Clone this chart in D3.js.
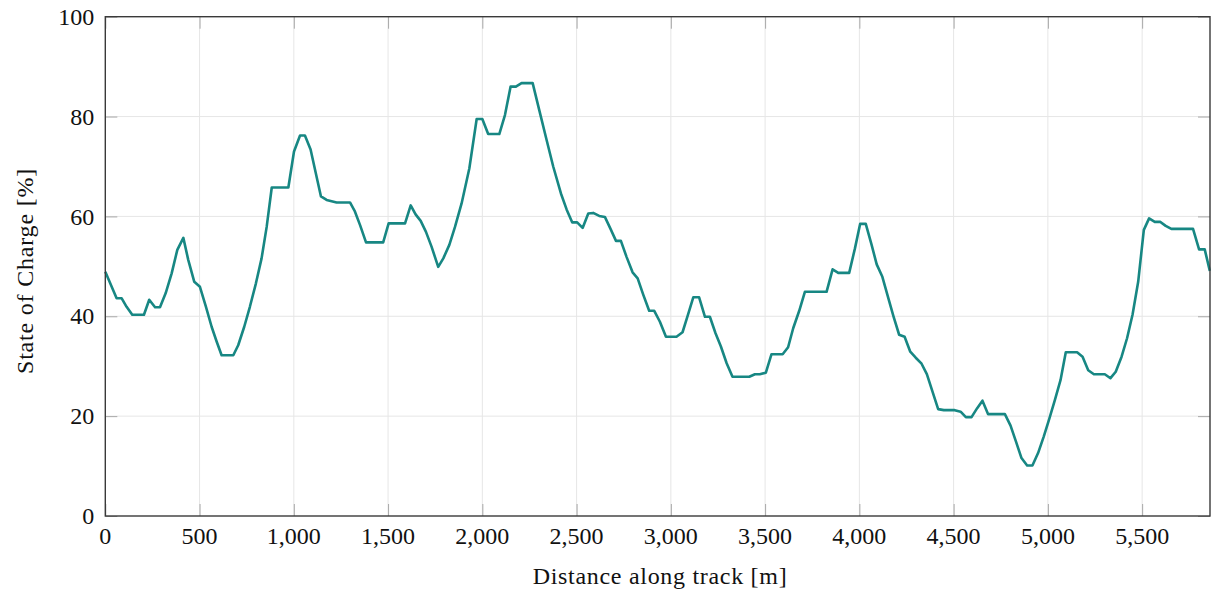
<!DOCTYPE html>
<html><head><meta charset="utf-8">
<script src="https://cdn.jsdelivr.net/npm/d3@7"></script>
<style>body{margin:0;background:#fff}svg{display:block}</style>
</head><body>
<script>
const distance = [0,34,60,87,113,143,205,233,264,290,320,352,382,414,440,472,502,534,564,591,617,679,705,737,767,799,829,856,883,971,1001,1033,1059,1089,1117,1144,1174,1227,1298,1324,1351,1383,1474,1503,1590,1620,1646,1673,1701,1731,1766,1793,1825,1855,1890,1931,1970,2000,2031,2090,2120,2150,2178,2208,2267,2302,2341,2376,2417,2447,2477,2503,2532,2562,2588,2620,2650,2680,2709,2735,2765,2797,2824,2853,2885,2912,2942,2974,3030,3062,3089,3119,3150,3181,3207,3237,3265,3296,3327,3416,3446,3472,3504,3534,3593,3622,3649,3681,3711,3826,3858,3888,3946,3976,4004,4034,4065,4092,4122,4151,4181,4211,4240,4270,4299,4330,4358,4388,4418,4448,4506,4537,4565,4595,4625,4653,4683,4772,4802,4830,4860,4890,4918,4948,4978,5007,5037,5067,5095,5155,5184,5214,5244,5302,5332,5360,5391,5420,5449,5479,5509,5537,5567,5597,5625,5655,5770,5802,5832,5859];
const soc = [48.9,45.9,43.6,43.6,41.9,40.3,40.3,43.3,41.8,41.8,44.6,48.6,53.3,55.7,51.3,46.9,45.9,41.9,37.9,34.9,32.2,32.2,34.2,37.9,41.9,46.6,51.6,57.9,65.8,65.8,73,76.2,76.2,73.4,68.6,64,63.3,62.8,62.8,61,58.3,54.8,54.8,58.6,58.6,62.2,60.4,59.1,56.9,53.9,49.9,51.6,54.3,57.9,62.6,69.6,79.5,79.5,76.5,76.5,80.3,86,86,86.7,86.7,81.3,75.3,70,64.6,61.4,58.8,58.8,57.7,60.6,60.7,60.1,59.9,57.5,55.1,55.1,51.9,48.8,47.6,44.4,41.1,41.1,38.9,35.9,35.9,36.8,40.1,43.8,43.8,39.9,39.9,36.6,34,30.6,27.9,27.9,28.4,28.4,28.7,32.4,32.4,33.8,37.6,41.1,44.9,44.9,49.4,48.7,48.7,53.5,58.5,58.5,54.3,50.4,47.9,44,40,36.3,35.9,32.9,31.7,30.5,28.4,24.9,21.4,21.2,21.2,20.9,19.8,19.8,21.6,23.1,20.4,20.4,18.1,15,11.6,10.1,10.1,12.6,15.9,19.4,23.2,27.2,32.8,32.8,31.9,29.2,28.4,28.4,27.6,28.9,31.9,35.6,40.3,46.9,57.3,59.6,58.9,58.9,58.1,57.5,57.5,53.4,53.4,49.1];
const xTicks = [0,500,1000,1500,2000,2500,3000,3500,4000,4500,5000,5500];
const yTicks = [0,20,40,60,80,100];
const xTitle = "Distance along track [m]";
const yTitle = "State of Charge [%]";

const W = 1211, H = 591;
const L = 105.3, R = 1210, T = 16.7, B = 516;
const svg = d3.select("body").append("svg").attr("width", W).attr("height", H);
const x = d3.scaleLinear().domain([0, 5860]).range([L, R]);
const y = d3.scaleLinear().domain([0, 100]).range([B, T]);
const font = "'Liberation Serif', serif";
const fmt = d3.format(",");

// grid
svg.append("g").selectAll("line").data(xTicks.slice(1)).join("line")
  .attr("x1", d => x(d)).attr("x2", d => x(d)).attr("y1", T).attr("y2", B)
  .attr("stroke", "#e6e6e6").attr("stroke-width", 1);
svg.append("g").selectAll("line").data(yTicks.slice(1, -1)).join("line")
  .attr("y1", d => y(d)).attr("y2", d => y(d)).attr("x1", L).attr("x2", R)
  .attr("stroke", "#e6e6e6").attr("stroke-width", 1);

// axes (inward ticks, no labels here)
const tk = 12;
const axB = svg.append("g").attr("transform", `translate(0,${B})`)
  .call(d3.axisTop(x).tickValues(xTicks).tickSize(tk).tickFormat(""));
const axT = svg.append("g").attr("transform", `translate(0,${T})`)
  .call(d3.axisBottom(x).tickValues(xTicks).tickSize(tk).tickFormat(""));
const axL = svg.append("g").attr("transform", `translate(${L},0)`)
  .call(d3.axisRight(y).tickValues(yTicks).tickSize(tk).tickFormat(""));
const axR = svg.append("g").attr("transform", `translate(${R},0)`)
  .call(d3.axisLeft(y).tickValues(yTicks).tickSize(tk).tickFormat(""));
[axB, axT, axL, axR].forEach(a => {
  a.select(".domain").remove();
  a.selectAll("line").attr("stroke", "#a8a8a8").attr("stroke-width", 1);
});

// tick labels
svg.append("g").selectAll("text").data(xTicks).join("text")
  .attr("x", d => x(d)).attr("y", 544)
  .attr("text-anchor", "middle").attr("font-family", font).attr("font-size", 24)
  .attr("fill", "#111").text(d => fmt(d));
svg.append("g").selectAll("text").data(yTicks).join("text")
  .attr("x", 94.3).attr("y", d => y(d) + 8.2)
  .attr("text-anchor", "end").attr("font-family", font).attr("font-size", 24)
  .attr("fill", "#111").text(d => d);

// line
svg.append("path").datum(distance.map((d, i) => [d, soc[i]]))
  .attr("fill", "none").attr("stroke", "#178783").attr("stroke-width", 2.6)
  .attr("stroke-linejoin", "round")
  .attr("d", d3.line().x(d => x(d[0])).y(d => y(d[1])));

// frame
svg.append("rect").attr("x", L).attr("y", T).attr("width", R - L).attr("height", B - T)
  .attr("fill", "none").attr("stroke", "#3a3a3a").attr("stroke-width", 1.4);

// titles
svg.append("text").attr("x", 660).attr("y", 583.5)
  .attr("text-anchor", "middle").attr("font-family", font).attr("font-size", 24)
  .attr("letter-spacing", 0.7)
  .attr("fill", "#111").text(xTitle);
svg.append("text").attr("transform", `translate(33,271) rotate(-90)`)
  .attr("text-anchor", "middle").attr("font-family", font).attr("font-size", 24)
  .attr("letter-spacing", 0.8)
  .attr("fill", "#111").text(yTitle);
</script>
</body></html>
